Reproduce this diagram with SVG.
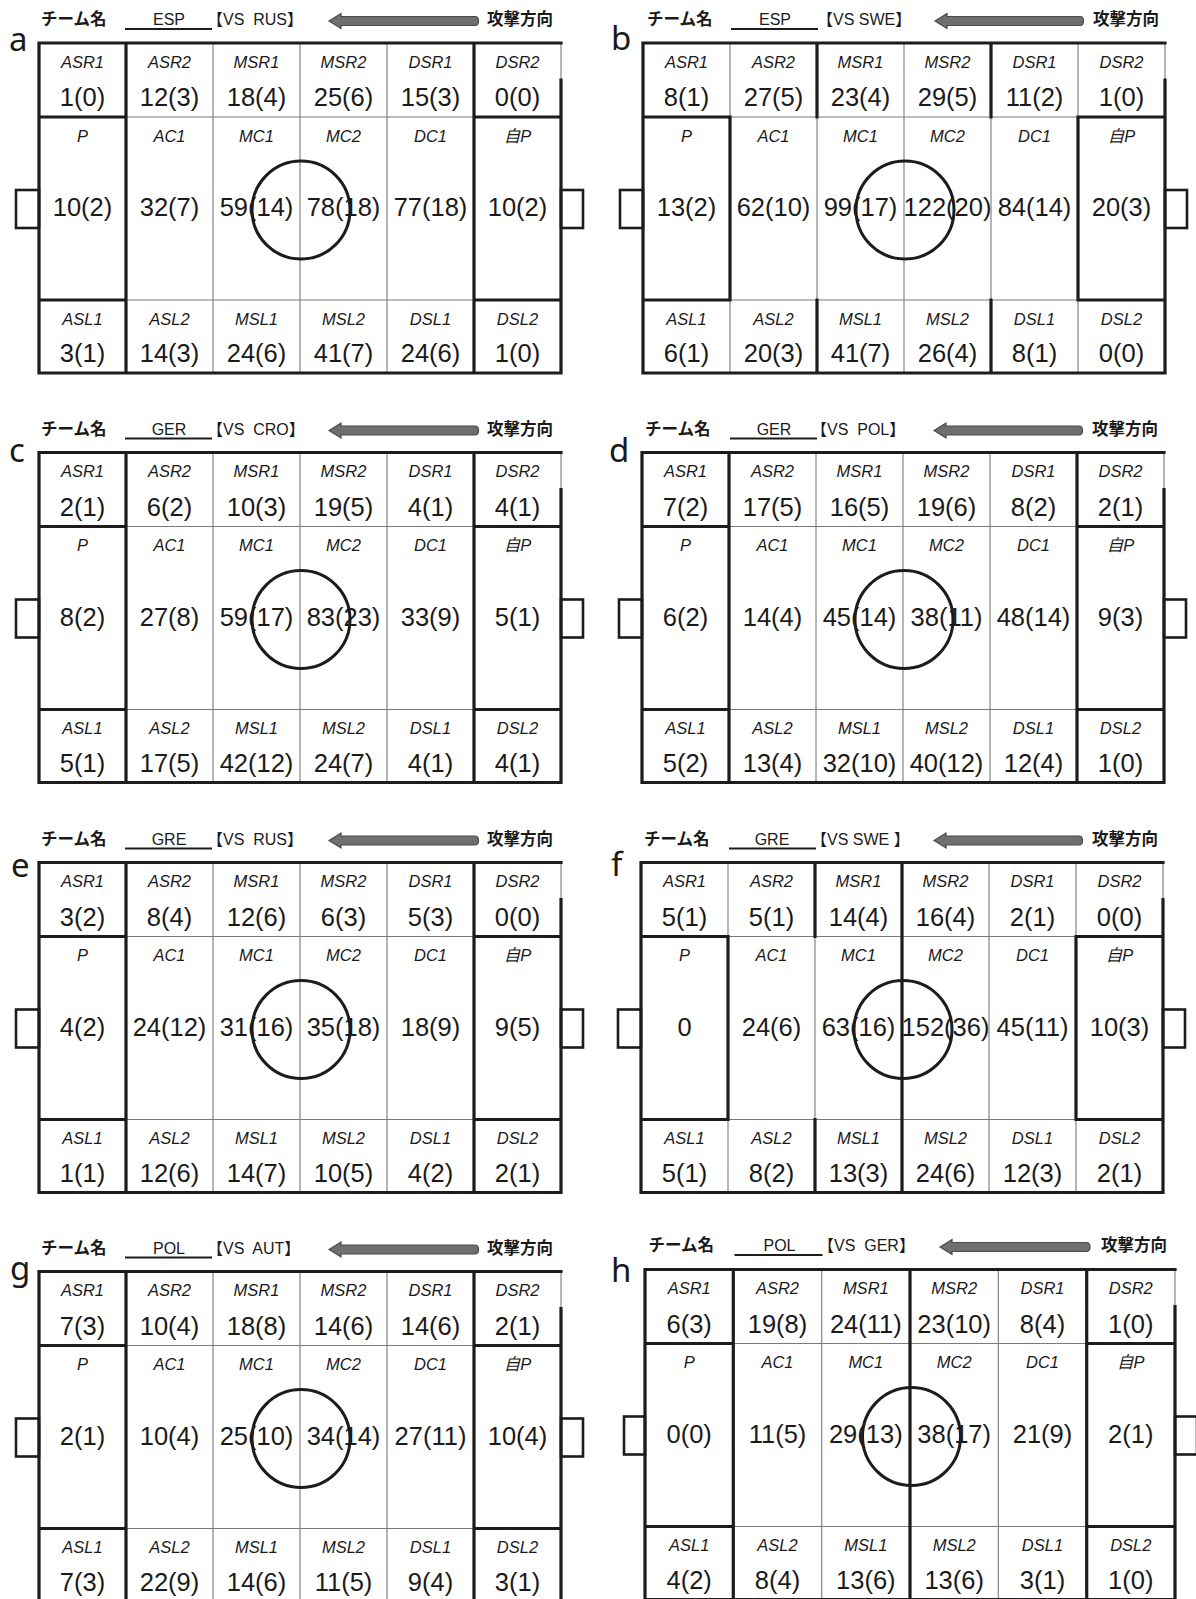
<svg xmlns="http://www.w3.org/2000/svg" width="1196" height="1599" viewBox="0 0 1196 1599">
<style>
.tn{stroke:#7a7a7a;stroke-width:1.1;fill:none}
.tk{stroke:#1c1c1c;stroke-width:3.2;fill:none;stroke-linecap:square}
.gl{fill:#fff;stroke:#1c1c1c;stroke-width:2.6}
.cc{fill:none;stroke:#1c1c1c;stroke-width:3}
.n{font-family:"Liberation Sans",Arial,sans-serif;font-size:25.5px;fill:#1a1a1a;text-anchor:middle}
.l{font-family:"Liberation Sans","Noto Sans CJK JP",sans-serif;font-size:16.5px;font-style:italic;fill:#1a1a1a;text-anchor:middle}
.h{font-family:"Noto Sans CJK JP",sans-serif;font-size:16.5px;font-weight:bold;fill:#1a1a1a}
.tm{font-family:"Liberation Sans",sans-serif;font-size:16px;fill:#1a1a1a;text-anchor:middle}
.vs{font-family:"Liberation Sans","Noto Sans CJK JP",sans-serif;font-size:16px;fill:#1a1a1a}
.lt{font-family:"Noto Sans",sans-serif;font-size:33px;fill:#1a1a1a}
.ar{fill:#6f6f6f;stroke:#4a4a4a;stroke-width:1.2}
.ul{stroke:#1c1c1c;stroke-width:1.8}
</style>
<rect width="1196" height="1599" fill="#fff"/>

<g id="panel-a" transform="translate(39,43)">
<text class="lt" x="-30" y="8">a</text>
<text class="h" x="2" y="-18">チーム名</text>
<line class="ul" x1="86" y1="-14" x2="173" y2="-14"/>
<text class="tm" x="130" y="-18">ESP</text>
<text class="vs" x="168" y="-18" xml:space="preserve">【VS  RUS】</text>
<path class="ar" d="M290,-22 L302,-29.5 L302,-26.5 L436,-26.5 Q439.5,-26.5 439.5,-22 Q439.5,-17.5 436,-17.5 L302,-17.5 L302,-14.5 Z"/>
<text class="h" x="448" y="-18">攻撃方向</text>
<rect class="gl" x="-23" y="147" width="23" height="38"/>
<rect class="gl" x="522" y="147" width="22" height="38"/>
<path class="tn" d="M87,0V330M174,0V330M261,0V330M348,0V330M435,0V330M0,74H522M0,257H522M522,0V37"/>
<path class="tk" d="M522,0H0V330H522M522,37V330M0,74H87M435,74H522M0,257H87M435,257H522M87,0V330M435,0V330"/>
<text class="l" x="43.5" y="24.5">ASR1</text><text class="l" x="130.5" y="24.5">ASR2</text><text class="l" x="217.5" y="24.5">MSR1</text><text class="l" x="304.5" y="24.5">MSR2</text><text class="l" x="391.5" y="24.5">DSR1</text><text class="l" x="478.5" y="24.5">DSR2</text>
<text class="n" x="43.5" y="63">1(0)</text><text class="n" x="130.5" y="63">12(3)</text><text class="n" x="217.5" y="63">18(4)</text><text class="n" x="304.5" y="63">25(6)</text><text class="n" x="391.5" y="63">15(3)</text><text class="n" x="478.5" y="63">0(0)</text>
<text class="l" x="43.5" y="98.5">P</text><text class="l" x="130.5" y="98.5">AC1</text><text class="l" x="217.5" y="98.5">MC1</text><text class="l" x="304.5" y="98.5">MC2</text><text class="l" x="391.5" y="98.5">DC1</text><text class="l" x="478.5" y="98.5">自P</text>
<text class="n" x="43.5" y="173">10(2)</text><text class="n" x="130.5" y="173">32(7)</text><text class="n" x="217.5" y="173">59(14)</text><text class="n" x="304.5" y="173">78(18)</text><text class="n" x="391.5" y="173">77(18)</text><text class="n" x="478.5" y="173">10(2)</text>
<text class="l" x="43.5" y="281.5">ASL1</text><text class="l" x="130.5" y="281.5">ASL2</text><text class="l" x="217.5" y="281.5">MSL1</text><text class="l" x="304.5" y="281.5">MSL2</text><text class="l" x="391.5" y="281.5">DSL1</text><text class="l" x="478.5" y="281.5">DSL2</text>
<text class="n" x="43.5" y="319">3(1)</text><text class="n" x="130.5" y="319">14(3)</text><text class="n" x="217.5" y="319">24(6)</text><text class="n" x="304.5" y="319">41(7)</text><text class="n" x="391.5" y="319">24(6)</text><text class="n" x="478.5" y="319">1(0)</text>
<circle class="cc" cx="262" cy="167" r="49"/>
</g>

<g id="panel-b" transform="translate(643,43)">
<text class="lt" x="-32" y="7">b</text>
<text class="h" x="4" y="-18">チーム名</text>
<line class="ul" x1="88" y1="-14" x2="175" y2="-14"/>
<text class="tm" x="132" y="-18">ESP</text>
<text class="vs" x="174" y="-18">【VS SWE】</text>
<path class="ar" d="M292,-22 L304,-29.5 L304,-26.5 L437,-26.5 Q440.5,-26.5 440.5,-22 Q440.5,-17.5 437,-17.5 L304,-17.5 L304,-14.5 Z"/>
<text class="h" x="450" y="-18">攻撃方向</text>
<rect class="gl" x="-23" y="147" width="23" height="38"/>
<rect class="gl" x="522" y="147" width="22" height="38"/>
<path class="tn" d="M87,0V330M174,0V330M261,0V330M348,0V330M435,0V330M0,74H522M0,257H522M522,0V37"/>
<path class="tk" d="M522,0H0V330H522M522,37V330M0,74H87M435,74H522M0,257H87M435,257H522M87,74V257M435,74V257M174,0V74M174,257V330M348,0V74M348,257V330"/>
<text class="l" x="43.5" y="24.5">ASR1</text><text class="l" x="130.5" y="24.5">ASR2</text><text class="l" x="217.5" y="24.5">MSR1</text><text class="l" x="304.5" y="24.5">MSR2</text><text class="l" x="391.5" y="24.5">DSR1</text><text class="l" x="478.5" y="24.5">DSR2</text>
<text class="n" x="43.5" y="63">8(1)</text><text class="n" x="130.5" y="63">27(5)</text><text class="n" x="217.5" y="63">23(4)</text><text class="n" x="304.5" y="63">29(5)</text><text class="n" x="391.5" y="63">11(2)</text><text class="n" x="478.5" y="63">1(0)</text>
<text class="l" x="43.5" y="98.5">P</text><text class="l" x="130.5" y="98.5">AC1</text><text class="l" x="217.5" y="98.5">MC1</text><text class="l" x="304.5" y="98.5">MC2</text><text class="l" x="391.5" y="98.5">DC1</text><text class="l" x="478.5" y="98.5">自P</text>
<text class="n" x="43.5" y="173">13(2)</text><text class="n" x="130.5" y="173">62(10)</text><text class="n" x="217.5" y="173">99(17)</text><text class="n" x="304.5" y="173">122(20)</text><text class="n" x="391.5" y="173">84(14)</text><text class="n" x="478.5" y="173">20(3)</text>
<text class="l" x="43.5" y="281.5">ASL1</text><text class="l" x="130.5" y="281.5">ASL2</text><text class="l" x="217.5" y="281.5">MSL1</text><text class="l" x="304.5" y="281.5">MSL2</text><text class="l" x="391.5" y="281.5">DSL1</text><text class="l" x="478.5" y="281.5">DSL2</text>
<text class="n" x="43.5" y="319">6(1)</text><text class="n" x="130.5" y="319">20(3)</text><text class="n" x="217.5" y="319">41(7)</text><text class="n" x="304.5" y="319">26(4)</text><text class="n" x="391.5" y="319">8(1)</text><text class="n" x="478.5" y="319">0(0)</text>
<circle class="cc" cx="262" cy="167" r="49"/>
</g>

<g id="panel-c" transform="translate(39,452.5)">
<text class="lt" x="-30" y="9">c</text>
<text class="h" x="2" y="-18">チーム名</text>
<line class="ul" x1="86" y1="-14" x2="173" y2="-14"/>
<text class="tm" x="130" y="-18">GER</text>
<text class="vs" x="168" y="-18" xml:space="preserve">【VS  CRO】</text>
<path class="ar" d="M290,-22 L302,-29.5 L302,-26.5 L436,-26.5 Q439.5,-26.5 439.5,-22 Q439.5,-17.5 436,-17.5 L302,-17.5 L302,-14.5 Z"/>
<text class="h" x="448" y="-18">攻撃方向</text>
<rect class="gl" x="-23" y="147" width="23" height="38"/>
<rect class="gl" x="522" y="147" width="22" height="38"/>
<path class="tn" d="M87,0V330M174,0V330M261,0V330M348,0V330M435,0V330M0,74H522M0,257H522M522,0V37"/>
<path class="tk" d="M522,0H0V330H522M522,37V330M0,74H87M435,74H522M0,257H87M435,257H522M87,0V330M435,0V330"/>
<text class="l" x="43.5" y="24.5">ASR1</text><text class="l" x="130.5" y="24.5">ASR2</text><text class="l" x="217.5" y="24.5">MSR1</text><text class="l" x="304.5" y="24.5">MSR2</text><text class="l" x="391.5" y="24.5">DSR1</text><text class="l" x="478.5" y="24.5">DSR2</text>
<text class="n" x="43.5" y="63">2(1)</text><text class="n" x="130.5" y="63">6(2)</text><text class="n" x="217.5" y="63">10(3)</text><text class="n" x="304.5" y="63">19(5)</text><text class="n" x="391.5" y="63">4(1)</text><text class="n" x="478.5" y="63">4(1)</text>
<text class="l" x="43.5" y="98.5">P</text><text class="l" x="130.5" y="98.5">AC1</text><text class="l" x="217.5" y="98.5">MC1</text><text class="l" x="304.5" y="98.5">MC2</text><text class="l" x="391.5" y="98.5">DC1</text><text class="l" x="478.5" y="98.5">自P</text>
<text class="n" x="43.5" y="173">8(2)</text><text class="n" x="130.5" y="173">27(8)</text><text class="n" x="217.5" y="173">59(17)</text><text class="n" x="304.5" y="173">83(23)</text><text class="n" x="391.5" y="173">33(9)</text><text class="n" x="478.5" y="173">5(1)</text>
<text class="l" x="43.5" y="281.5">ASL1</text><text class="l" x="130.5" y="281.5">ASL2</text><text class="l" x="217.5" y="281.5">MSL1</text><text class="l" x="304.5" y="281.5">MSL2</text><text class="l" x="391.5" y="281.5">DSL1</text><text class="l" x="478.5" y="281.5">DSL2</text>
<text class="n" x="43.5" y="319">5(1)</text><text class="n" x="130.5" y="319">17(5)</text><text class="n" x="217.5" y="319">42(12)</text><text class="n" x="304.5" y="319">24(7)</text><text class="n" x="391.5" y="319">4(1)</text><text class="n" x="478.5" y="319">4(1)</text>
<circle class="cc" cx="262" cy="167" r="49"/>
</g>

<g id="panel-d" transform="translate(642,452.5)">
<text class="lt" x="-33" y="9">d</text>
<text class="h" x="3" y="-18">チーム名</text>
<line class="ul" x1="88" y1="-14" x2="175" y2="-14"/>
<text class="tm" x="132" y="-18">GER</text>
<text class="vs" x="169" y="-18" xml:space="preserve">【VS  POL】</text>
<path class="ar" d="M292,-22 L304,-29.5 L304,-26.5 L437,-26.5 Q440.5,-26.5 440.5,-22 Q440.5,-17.5 437,-17.5 L304,-17.5 L304,-14.5 Z"/>
<text class="h" x="450" y="-18">攻撃方向</text>
<rect class="gl" x="-23" y="147" width="23" height="38"/>
<rect class="gl" x="522" y="147" width="22" height="38"/>
<path class="tn" d="M87,0V330M174,0V330M261,0V330M348,0V330M435,0V330M0,74H522M0,257H522M522,0V37"/>
<path class="tk" d="M522,0H0V330H522M522,37V330M0,74H87M435,74H522M0,257H87M435,257H522M87,0V330M435,0V330"/>
<text class="l" x="43.5" y="24.5">ASR1</text><text class="l" x="130.5" y="24.5">ASR2</text><text class="l" x="217.5" y="24.5">MSR1</text><text class="l" x="304.5" y="24.5">MSR2</text><text class="l" x="391.5" y="24.5">DSR1</text><text class="l" x="478.5" y="24.5">DSR2</text>
<text class="n" x="43.5" y="63">7(2)</text><text class="n" x="130.5" y="63">17(5)</text><text class="n" x="217.5" y="63">16(5)</text><text class="n" x="304.5" y="63">19(6)</text><text class="n" x="391.5" y="63">8(2)</text><text class="n" x="478.5" y="63">2(1)</text>
<text class="l" x="43.5" y="98.5">P</text><text class="l" x="130.5" y="98.5">AC1</text><text class="l" x="217.5" y="98.5">MC1</text><text class="l" x="304.5" y="98.5">MC2</text><text class="l" x="391.5" y="98.5">DC1</text><text class="l" x="478.5" y="98.5">自P</text>
<text class="n" x="43.5" y="173">6(2)</text><text class="n" x="130.5" y="173">14(4)</text><text class="n" x="217.5" y="173">45(14)</text><text class="n" x="304.5" y="173">38(11)</text><text class="n" x="391.5" y="173">48(14)</text><text class="n" x="478.5" y="173">9(3)</text>
<text class="l" x="43.5" y="281.5">ASL1</text><text class="l" x="130.5" y="281.5">ASL2</text><text class="l" x="217.5" y="281.5">MSL1</text><text class="l" x="304.5" y="281.5">MSL2</text><text class="l" x="391.5" y="281.5">DSL1</text><text class="l" x="478.5" y="281.5">DSL2</text>
<text class="n" x="43.5" y="319">5(2)</text><text class="n" x="130.5" y="319">13(4)</text><text class="n" x="217.5" y="319">32(10)</text><text class="n" x="304.5" y="319">40(12)</text><text class="n" x="391.5" y="319">12(4)</text><text class="n" x="478.5" y="319">1(0)</text>
<circle class="cc" cx="262" cy="167" r="49"/>
</g>

<g id="panel-e" transform="translate(39,862.5)">
<text class="lt" x="-28" y="14">e</text>
<text class="h" x="2" y="-18">チーム名</text>
<line class="ul" x1="86" y1="-14" x2="173" y2="-14"/>
<text class="tm" x="130" y="-18">GRE</text>
<text class="vs" x="168" y="-18" xml:space="preserve">【VS  RUS】</text>
<path class="ar" d="M290,-22 L302,-29.5 L302,-26.5 L436,-26.5 Q439.5,-26.5 439.5,-22 Q439.5,-17.5 436,-17.5 L302,-17.5 L302,-14.5 Z"/>
<text class="h" x="448" y="-18">攻撃方向</text>
<rect class="gl" x="-23" y="147" width="23" height="38"/>
<rect class="gl" x="522" y="147" width="22" height="38"/>
<path class="tn" d="M87,0V330M174,0V330M261,0V330M348,0V330M435,0V330M0,74H522M0,257H522M522,0V37"/>
<path class="tk" d="M522,0H0V330H522M522,37V330M0,74H87M435,74H522M0,257H87M435,257H522M87,0V330M435,0V330"/>
<text class="l" x="43.5" y="24.5">ASR1</text><text class="l" x="130.5" y="24.5">ASR2</text><text class="l" x="217.5" y="24.5">MSR1</text><text class="l" x="304.5" y="24.5">MSR2</text><text class="l" x="391.5" y="24.5">DSR1</text><text class="l" x="478.5" y="24.5">DSR2</text>
<text class="n" x="43.5" y="63">3(2)</text><text class="n" x="130.5" y="63">8(4)</text><text class="n" x="217.5" y="63">12(6)</text><text class="n" x="304.5" y="63">6(3)</text><text class="n" x="391.5" y="63">5(3)</text><text class="n" x="478.5" y="63">0(0)</text>
<text class="l" x="43.5" y="98.5">P</text><text class="l" x="130.5" y="98.5">AC1</text><text class="l" x="217.5" y="98.5">MC1</text><text class="l" x="304.5" y="98.5">MC2</text><text class="l" x="391.5" y="98.5">DC1</text><text class="l" x="478.5" y="98.5">自P</text>
<text class="n" x="43.5" y="173">4(2)</text><text class="n" x="130.5" y="173">24(12)</text><text class="n" x="217.5" y="173">31(16)</text><text class="n" x="304.5" y="173">35(18)</text><text class="n" x="391.5" y="173">18(9)</text><text class="n" x="478.5" y="173">9(5)</text>
<text class="l" x="43.5" y="281.5">ASL1</text><text class="l" x="130.5" y="281.5">ASL2</text><text class="l" x="217.5" y="281.5">MSL1</text><text class="l" x="304.5" y="281.5">MSL2</text><text class="l" x="391.5" y="281.5">DSL1</text><text class="l" x="478.5" y="281.5">DSL2</text>
<text class="n" x="43.5" y="319">1(1)</text><text class="n" x="130.5" y="319">12(6)</text><text class="n" x="217.5" y="319">14(7)</text><text class="n" x="304.5" y="319">10(5)</text><text class="n" x="391.5" y="319">4(2)</text><text class="n" x="478.5" y="319">2(1)</text>
<circle class="cc" cx="262" cy="167" r="49"/>
</g>

<g id="panel-f" transform="translate(641,862.5)">
<text class="lt" x="-30" y="13">f</text>
<text class="h" x="3" y="-18">チーム名</text>
<line class="ul" x1="88" y1="-14" x2="175" y2="-14"/>
<text class="tm" x="131" y="-18">GRE</text>
<text class="vs" x="170" y="-18" xml:space="preserve">【VS SWE 】</text>
<path class="ar" d="M293,-22 L305,-29.5 L305,-26.5 L438,-26.5 Q441.5,-26.5 441.5,-22 Q441.5,-17.5 438,-17.5 L305,-17.5 L305,-14.5 Z"/>
<text class="h" x="451" y="-18">攻撃方向</text>
<rect class="gl" x="-23" y="147" width="23" height="38"/>
<rect class="gl" x="522" y="147" width="22" height="38"/>
<path class="tn" d="M87,0V330M174,0V330M261,0V330M348,0V330M435,0V330M0,74H522M0,257H522M522,0V37"/>
<path class="tk" d="M522,0H0V330H522M522,37V330M0,74H87M435,74H522M0,257H87M435,257H522M87,74V257M435,74V257M174,0V74M174,257V330M261,0V330"/>
<text class="l" x="43.5" y="24.5">ASR1</text><text class="l" x="130.5" y="24.5">ASR2</text><text class="l" x="217.5" y="24.5">MSR1</text><text class="l" x="304.5" y="24.5">MSR2</text><text class="l" x="391.5" y="24.5">DSR1</text><text class="l" x="478.5" y="24.5">DSR2</text>
<text class="n" x="43.5" y="63">5(1)</text><text class="n" x="130.5" y="63">5(1)</text><text class="n" x="217.5" y="63">14(4)</text><text class="n" x="304.5" y="63">16(4)</text><text class="n" x="391.5" y="63">2(1)</text><text class="n" x="478.5" y="63">0(0)</text>
<text class="l" x="43.5" y="98.5">P</text><text class="l" x="130.5" y="98.5">AC1</text><text class="l" x="217.5" y="98.5">MC1</text><text class="l" x="304.5" y="98.5">MC2</text><text class="l" x="391.5" y="98.5">DC1</text><text class="l" x="478.5" y="98.5">自P</text>
<text class="n" x="43.5" y="173">0</text><text class="n" x="130.5" y="173">24(6)</text><text class="n" x="217.5" y="173">63(16)</text><text class="n" x="304.5" y="173">152(36)</text><text class="n" x="391.5" y="173">45(11)</text><text class="n" x="478.5" y="173">10(3)</text>
<text class="l" x="43.5" y="281.5">ASL1</text><text class="l" x="130.5" y="281.5">ASL2</text><text class="l" x="217.5" y="281.5">MSL1</text><text class="l" x="304.5" y="281.5">MSL2</text><text class="l" x="391.5" y="281.5">DSL1</text><text class="l" x="478.5" y="281.5">DSL2</text>
<text class="n" x="43.5" y="319">5(1)</text><text class="n" x="130.5" y="319">8(2)</text><text class="n" x="217.5" y="319">13(3)</text><text class="n" x="304.5" y="319">24(6)</text><text class="n" x="391.5" y="319">12(3)</text><text class="n" x="478.5" y="319">2(1)</text>
<circle class="cc" cx="262" cy="167" r="49"/>
</g>

<g id="panel-g" transform="translate(39,1271.5)">
<text class="lt" x="-29" y="8">g</text>
<text class="h" x="2" y="-18">チーム名</text>
<line class="ul" x1="86" y1="-14" x2="173" y2="-14"/>
<text class="tm" x="130" y="-18">POL</text>
<text class="vs" x="168" y="-18" xml:space="preserve">【VS  AUT】</text>
<path class="ar" d="M290,-22 L302,-29.5 L302,-26.5 L436,-26.5 Q439.5,-26.5 439.5,-22 Q439.5,-17.5 436,-17.5 L302,-17.5 L302,-14.5 Z"/>
<text class="h" x="448" y="-18">攻撃方向</text>
<rect class="gl" x="-23" y="147" width="23" height="38"/>
<rect class="gl" x="522" y="147" width="22" height="38"/>
<path class="tn" d="M87,0V330M174,0V330M261,0V330M348,0V330M435,0V330M0,74H522M0,257H522M522,0V37"/>
<path class="tk" d="M522,0H0V330H522M522,37V330M0,74H87M435,74H522M0,257H87M435,257H522M87,0V330M435,0V330"/>
<text class="l" x="43.5" y="24.5">ASR1</text><text class="l" x="130.5" y="24.5">ASR2</text><text class="l" x="217.5" y="24.5">MSR1</text><text class="l" x="304.5" y="24.5">MSR2</text><text class="l" x="391.5" y="24.5">DSR1</text><text class="l" x="478.5" y="24.5">DSR2</text>
<text class="n" x="43.5" y="63">7(3)</text><text class="n" x="130.5" y="63">10(4)</text><text class="n" x="217.5" y="63">18(8)</text><text class="n" x="304.5" y="63">14(6)</text><text class="n" x="391.5" y="63">14(6)</text><text class="n" x="478.5" y="63">2(1)</text>
<text class="l" x="43.5" y="98.5">P</text><text class="l" x="130.5" y="98.5">AC1</text><text class="l" x="217.5" y="98.5">MC1</text><text class="l" x="304.5" y="98.5">MC2</text><text class="l" x="391.5" y="98.5">DC1</text><text class="l" x="478.5" y="98.5">自P</text>
<text class="n" x="43.5" y="173">2(1)</text><text class="n" x="130.5" y="173">10(4)</text><text class="n" x="217.5" y="173">25(10)</text><text class="n" x="304.5" y="173">34(14)</text><text class="n" x="391.5" y="173">27(11)</text><text class="n" x="478.5" y="173">10(4)</text>
<text class="l" x="43.5" y="281.5">ASL1</text><text class="l" x="130.5" y="281.5">ASL2</text><text class="l" x="217.5" y="281.5">MSL1</text><text class="l" x="304.5" y="281.5">MSL2</text><text class="l" x="391.5" y="281.5">DSL1</text><text class="l" x="478.5" y="281.5">DSL2</text>
<text class="n" x="43.5" y="319">7(3)</text><text class="n" x="130.5" y="319">22(9)</text><text class="n" x="217.5" y="319">14(6)</text><text class="n" x="304.5" y="319">11(5)</text><text class="n" x="391.5" y="319">9(4)</text><text class="n" x="478.5" y="319">3(1)</text>
<circle class="cc" cx="262" cy="167" r="49"/>
</g>

<g id="panel-h" transform="translate(645,1269.5)">
<text class="lt" x="-34" y="12">h</text>
<text class="h" x="3.5" y="-18.5">チーム名</text>
<line class="ul" x1="89.5" y1="-14.5" x2="177.5" y2="-14.5"/>
<text class="tm" x="134.5" y="-18.5">POL</text>
<text class="vs" x="173" y="-18.5" xml:space="preserve">【VS  GER】</text>
<path class="ar" d="M295,-22.5 L307,-30 L307,-27 L441.5,-27 Q445,-27 445,-22.5 Q445,-18 441.5,-18 L307,-18 L307,-15 Z"/>
<text class="h" x="456" y="-18.5">攻撃方向</text>
<rect class="gl" x="-21" y="147" width="21" height="38"/>
<rect class="gl" x="530" y="147" width="22" height="38"/>
<path class="tn" d="M88.3,0V330M176.7,0V330M265,0V330M353.3,0V330M441.7,0V330M0,74H530M0,257H530M530,0V37"/>
<path class="tk" d="M530,0H0V330H530M530,37V330M0,74H88.3M441.7,74H530M0,257H88.3M441.7,257H530M88.3,0V330M265,0V330M441.7,0V330"/>
<text class="l" x="44.2" y="24.5">ASR1</text><text class="l" x="132.5" y="24.5">ASR2</text><text class="l" x="220.8" y="24.5">MSR1</text><text class="l" x="309.2" y="24.5">MSR2</text><text class="l" x="397.5" y="24.5">DSR1</text><text class="l" x="485.8" y="24.5">DSR2</text>
<text class="n" x="44.2" y="63">6(3)</text><text class="n" x="132.5" y="63">19(8)</text><text class="n" x="220.8" y="63">24(11)</text><text class="n" x="309.2" y="63">23(10)</text><text class="n" x="397.5" y="63">8(4)</text><text class="n" x="485.8" y="63">1(0)</text>
<text class="l" x="44.2" y="98.5">P</text><text class="l" x="132.5" y="98.5">AC1</text><text class="l" x="220.8" y="98.5">MC1</text><text class="l" x="309.2" y="98.5">MC2</text><text class="l" x="397.5" y="98.5">DC1</text><text class="l" x="485.8" y="98.5">自P</text>
<text class="n" x="44.2" y="173">0(0)</text><text class="n" x="132.5" y="173">11(5)</text><text class="n" x="220.8" y="173">29(13)</text><text class="n" x="309.2" y="173">38(17)</text><text class="n" x="397.5" y="173">21(9)</text><text class="n" x="485.8" y="173">2(1)</text>
<text class="l" x="44.2" y="281.5">ASL1</text><text class="l" x="132.5" y="281.5">ASL2</text><text class="l" x="220.8" y="281.5">MSL1</text><text class="l" x="309.2" y="281.5">MSL2</text><text class="l" x="397.5" y="281.5">DSL1</text><text class="l" x="485.8" y="281.5">DSL2</text>
<text class="n" x="44.2" y="319">4(2)</text><text class="n" x="132.5" y="319">8(4)</text><text class="n" x="220.8" y="319">13(6)</text><text class="n" x="309.2" y="319">13(6)</text><text class="n" x="397.5" y="319">3(1)</text><text class="n" x="485.8" y="319">1(0)</text>
<circle class="cc" cx="266.5" cy="167" r="49"/>
</g>
</svg>
